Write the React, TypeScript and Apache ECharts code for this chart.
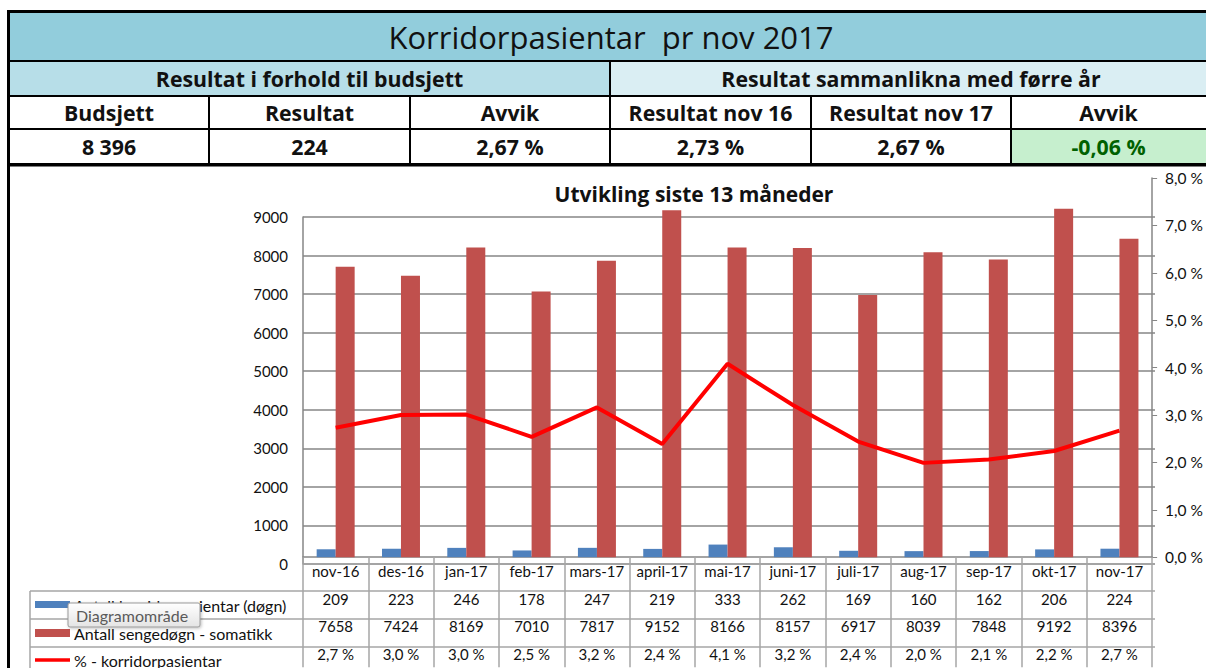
import React, { useEffect, useRef } from "react";
import * as echarts from "echarts";

// ---------- data ----------
const months = ["nov-16", "des-16", "jan-17", "feb-17", "mars-17", "april-17", "mai-17", "juni-17", "juli-17", "aug-17", "sep-17", "okt-17", "nov-17"];
const korridor = [209, 223, 246, 178, 247, 219, 333, 262, 169, 160, 162, 206, 224];
const sengedogn = [7658, 7424, 8169, 7010, 7817, 9152, 8166, 8157, 6917, 8039, 7848, 9192, 8396];
const korridorPct = [2.73, 3.0, 3.01, 2.54, 3.16, 2.39, 4.08, 3.21, 2.44, 1.99, 2.06, 2.24, 2.67];
const seriesNames = ["Antall korridorpasientar (døgn)", "Antall sengedøgn - somatikk", "% - korridorpasientar"];

const headerTitle = "Korridorpasientar  pr nov 2017";
const groupHeads = ["Resultat i forhold til budsjett", "Resultat sammanlikna med førre år"];
const colHeads = ["Budsjett", "Resultat", "Avvik", "Resultat nov 16", "Resultat nov 17", "Avvik"];
const colValues = ["8 396", "224", "2,67 %", "2,73 %", "2,67 %", "-0,06 %"];
const chartTitle = "Utvikling siste 13 måneder";
const hoverTip = "Diagramområde";

const FONT = "Lato, 'Open Sans', sans-serif";
const HFONT = "'Open Sans', Lato, sans-serif";
const fmtPct = (v: number) => v.toFixed(1).replace(".", ",") + " %";

export default function App() {
  const ref = useRef<HTMLDivElement>(null);
  useEffect(() => {
    if (!ref.current) return;
    const chart = echarts.init(ref.current, null, { renderer: "svg" });

    const colX = [9, 209, 410, 610, 811, 1011, 1220];
    const rows = { t0: 12, t1: 61, r2: 96, r3: 129, r4: 164 };
    const g: any[] = [];
    // title row
    g.push({ type: "rect", shape: { x: 9, y: rows.t0, width: 1220, height: rows.t1 - rows.t0 }, style: { fill: "#92CDDC", stroke: "#000", lineWidth: 2 } });
    g.push({ type: "text", style: { text: headerTitle, x: 611, y: (rows.t0 + rows.t1) / 2, align: "center", verticalAlign: "middle", font: `31px ${HFONT}`, fill: "#111" } });
    // group row
    g.push({ type: "rect", shape: { x: 9, y: rows.t1, width: colX[3] - 9, height: rows.r2 - rows.t1 }, style: { fill: "#B7DEE8", stroke: "#000", lineWidth: 2 } });
    g.push({ type: "rect", shape: { x: colX[3], y: rows.t1, width: 1220 - colX[3], height: rows.r2 - rows.t1 }, style: { fill: "#DAEEF3", stroke: "#000", lineWidth: 2 } });
    g.push({ type: "text", style: { text: groupHeads[0], x: (9 + colX[3]) / 2, y: (rows.t1 + rows.r2) / 2, align: "center", verticalAlign: "middle", font: `bold 21.3px ${HFONT}`, fill: "#111" } });
    g.push({ type: "text", style: { text: groupHeads[1], x: (colX[3] + 1212) / 2, y: (rows.t1 + rows.r2) / 2, align: "center", verticalAlign: "middle", font: `bold 21.3px ${HFONT}`, fill: "#111" } });
    // header cells + values
    for (let i = 0; i < 6; i++) {
      const x0 = colX[i], x1 = colX[i + 1];
      g.push({ type: "rect", shape: { x: x0, y: rows.r2, width: x1 - x0, height: rows.r3 - rows.r2 }, style: { fill: "#fff", stroke: "#000", lineWidth: 2 } });
      g.push({ type: "rect", shape: { x: x0, y: rows.r3, width: x1 - x0, height: rows.r4 - rows.r3 }, style: { fill: i === 5 ? "#C6EFCE" : "#fff", stroke: "#000", lineWidth: 2 } });
      const cx = i === 5 ? (x0 + 1206) / 2 : (x0 + x1) / 2;
      g.push({ type: "text", style: { text: colHeads[i], x: cx, y: (rows.r2 + rows.r3) / 2, align: "center", verticalAlign: "middle", font: `bold 21.3px ${HFONT}`, fill: "#111" } });
      g.push({ type: "text", style: { text: colValues[i], x: cx, y: (rows.r3 + rows.r4) / 2, align: "center", verticalAlign: "middle", font: `bold 21.3px ${HFONT}`, fill: i === 5 ? "#006100" : "#111" } });
    }
    // outer frame
    g.push({ type: "line", shape: { x1: 8, y1: 11.5, x2: 1220, y2: 11.5 }, style: { stroke: "#000", lineWidth: 3 } });
    g.push({ type: "line", shape: { x1: 8.5, y1: 10, x2: 8.5, y2: 680 }, style: { stroke: "#000", lineWidth: 3 } });
    g.push({ type: "line", shape: { x1: 8, y1: rows.r4 + 1, x2: 1220, y2: rows.r4 + 1 }, style: { stroke: "#000", lineWidth: 3 } });
    // chart title
    g.push({ type: "text", style: { text: chartTitle, x: 694, y: 194, align: "center", verticalAlign: "middle", font: `bold 21px ${HFONT}`, fill: "#111" } });
    // data table lines (left column)
    const tblColor = "#A6A6A6";
    [591, 619, 647].forEach((y) => g.push({ type: "line", shape: { x1: 30, y1: y, x2: 1155, y2: y }, style: { stroke: tblColor, lineWidth: 1.5 } }));
    g.push({ type: "line", shape: { x1: 30, y1: 591, x2: 30, y2: 680 }, style: { stroke: tblColor, lineWidth: 1.5 } });
    // legend keys + names
    g.push({ type: "rect", shape: { x: 35, y: 601, width: 35, height: 7 }, style: { fill: "#4F81BD" } });
    g.push({ type: "rect", shape: { x: 35, y: 629, width: 35, height: 8 }, style: { fill: "#C0504D" } });
    g.push({ type: "line", shape: { x1: 35, y1: 660, x2: 70, y2: 660 }, style: { stroke: "#FF0000", lineWidth: 3.5 } });
    const rowY = [605, 633, 660.5];
    seriesNames.forEach((n, i) => g.push({ type: "text", style: { text: n, x: 74, y: rowY[i], align: "left", verticalAlign: "middle", font: `16px ${FONT}`, fill: "#111" } }));
    // excel hover tooltip
    g.push({ type: "rect", z: 100, shape: { x: 68, y: 603, width: 132, height: 24, r: 2 }, style: { fill: new echarts.graphic.LinearGradient(0, 0, 0, 1, [{ offset: 0, color: "#FFFFFF" }, { offset: 1, color: "#E4E4E4" }]), stroke: "#9A9A9A", lineWidth: 1, shadowBlur: 3, shadowColor: "rgba(0,0,0,0.25)", shadowOffsetX: 1, shadowOffsetY: 1 } });
    g.push({ type: "text", z: 101, style: { text: hoverTip, x: 76, y: 615, align: "left", verticalAlign: "middle", font: `16px ${FONT}`, fill: "#5A5A5A" } });

    const gridColor = "#868686";
    const option: any = {
      animation: false,
      backgroundColor: "#fff",
      textStyle: { fontFamily: FONT },
      grid: [
        { left: 303, right: 51, top: 178, bottom: 104 },
        { left: 303, right: 51, top: 217, bottom: 104 },
      ],
      xAxis: [
        {
          type: "category", gridIndex: 0, data: months, boundaryGap: true,
          axisLine: { show: true, lineStyle: { color: gridColor, width: 1.5 } },
          axisTick: { show: true, interval: 0, length: 110, lineStyle: { color: tblColor, width: 1.5 } },
          axisLabel: {
            interval: 0, margin: 0, color: "#111", fontSize: 15, fontFamily: FONT, lineHeight: 27.7,
            formatter: (v: string, i: number) => [v, String(korridor[i]), String(sengedogn[i]), fmtPct(korridorPct[i])].join("\n"),
          },
        },
        { type: "category", gridIndex: 1, data: months, show: false },
      ],
      yAxis: [
        { type: "value", gridIndex: 0, min: 0, max: 10000, interval: 1000, show: false, splitLine: { show: false } },
        {
          type: "value", gridIndex: 0, position: "right", min: 0, max: 8, interval: 1,
          axisLine: { show: true, lineStyle: { color: gridColor, width: 1.5 } },
          axisTick: { show: true, length: 5, lineStyle: { color: gridColor } },
          splitLine: { show: false },
          axisLabel: { margin: 13, color: "#111", fontSize: 15.5, fontFamily: FONT, formatter: (v: number) => fmtPct(v) },
        },
        {
          type: "value", gridIndex: 1, position: "left", min: 0, max: 9000, interval: 1000,
          axisLine: { show: true, lineStyle: { color: gridColor, width: 1.5 } },
          axisTick: { show: false },
          splitLine: { show: true, lineStyle: { color: gridColor, width: 1.5 } },
          axisLabel: { margin: 15, color: "#111", fontSize: 15, fontFamily: FONT, formatter: (v: number) => String(v) },
        },
      ],
      series: [
        { name: seriesNames[0], type: "bar", xAxisIndex: 0, yAxisIndex: 0, data: korridor, barWidth: 19, barGap: "0%", itemStyle: { color: "#4F81BD" } },
        { name: seriesNames[1], type: "bar", xAxisIndex: 0, yAxisIndex: 0, data: sengedogn, barWidth: 19, barGap: "0%", itemStyle: { color: "#C0504D" } },
        { name: seriesNames[2], type: "line", xAxisIndex: 0, yAxisIndex: 1, data: korridorPct, showSymbol: false, symbol: "none", lineStyle: { color: "#FF0000", width: 4 }, z: 5 },
      ],
      graphic: g,
    };
    chart.setOption(option);
    return () => chart.dispose();
  }, []);
  return <div ref={ref} style={{ position: "absolute", left: 0, top: 0, width: 1206, height: 668 }} />;
}
